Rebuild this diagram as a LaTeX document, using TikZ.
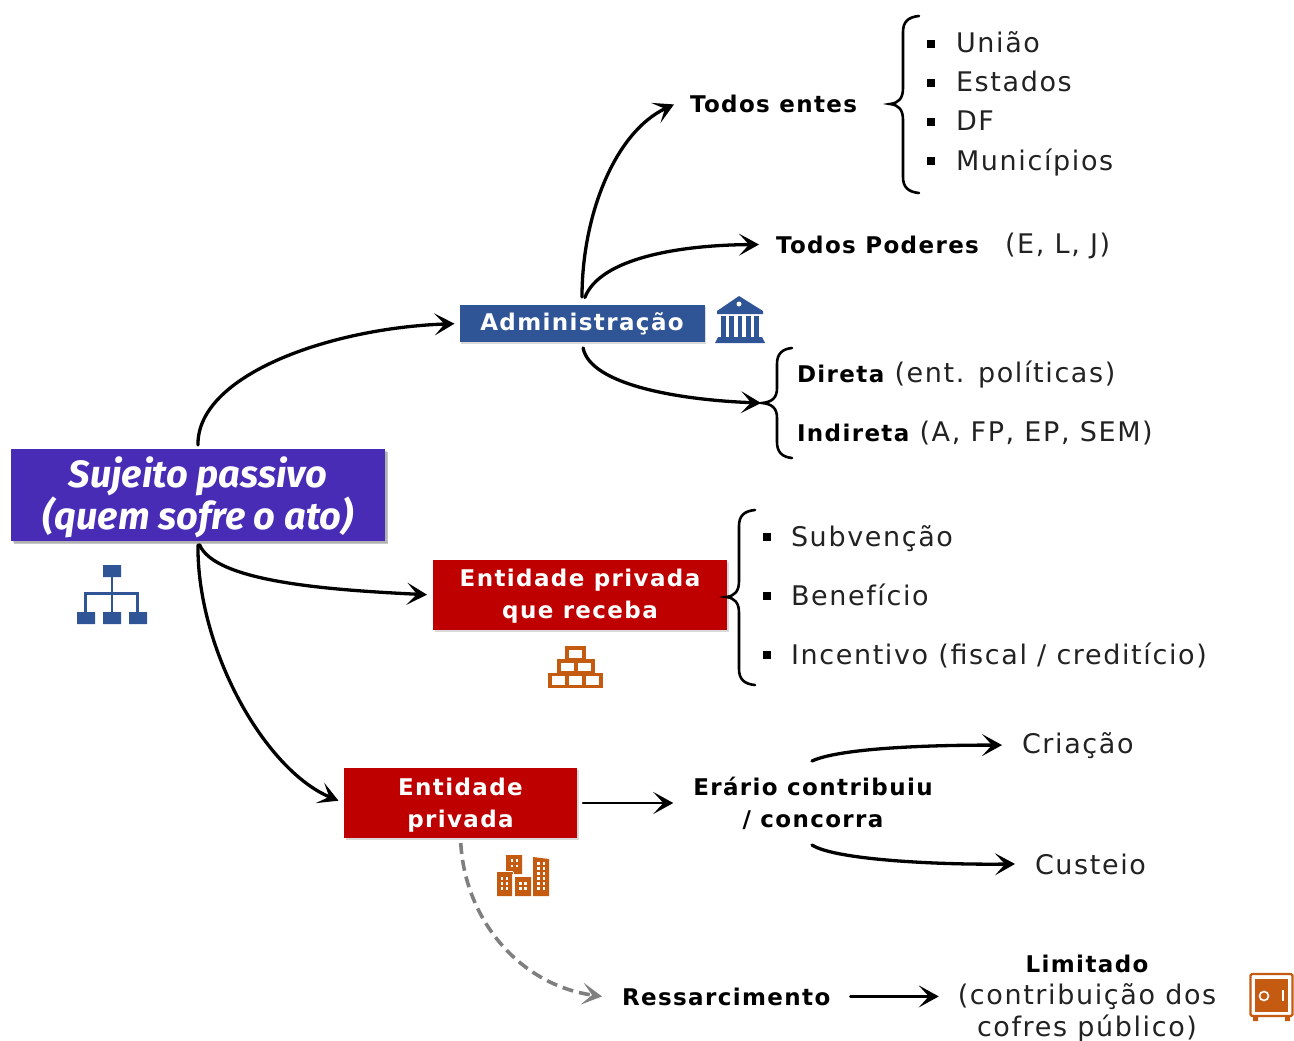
\documentclass[tikz,border=0pt]{standalone}
\usepackage{fontspec}
\setmainfont{DejaVu Sans}[LetterSpace=6]
\newfontfamily\titlefont{Fira Sans}
\usetikzlibrary{arrows.meta,shadows}
\definecolor{cpurple}{HTML}{482CB6}
\definecolor{cblue}{HTML}{2F5597}
\definecolor{cred}{HTML}{BE0000}
\definecolor{corange}{HTML}{C55A11}
\definecolor{cgray}{HTML}{7F7F7F}
\definecolor{ctext}{HTML}{222222}
\newcommand{\bb}[1]{{\fontsize{23}{32}\selectfont\bfseries\color{black}#1}}
\tikzset{
 lbl/.style={anchor=base west,inner sep=0pt,outer sep=0pt,text=ctext,font=\fontsize{27}{32}\selectfont},
 lblc/.style={lbl,anchor=center,align=center},
 blbl/.style={lbl,text=black,font=\fontsize{23}{32}\selectfont\bfseries},
 blblc/.style={blbl,anchor=center,align=center},
 boxn/.style={inner sep=0pt,outer sep=0pt,text=white,align=center,drop shadow={shadow xshift=1.5pt,shadow yshift=-1.5pt,opacity=.3}},
 conn/.style={line width=3.3pt,black,line cap=round,-{Stealth[length=20pt,width=22pt,inset=10pt]}},
 brace/.style={line width=2.6pt,black,line cap=round},
 bull/.style={fill=black,minimum size=7.5pt,inner sep=0pt,outer sep=0pt,draw=none},
}
\begin{document}
\begin{tikzpicture}[x=1pt,y=-1pt]
\useasboundingbox (0,0) rectangle (1294,1041);
% boxes
\node[boxn,drop shadow={shadow xshift=3pt,shadow yshift=-3pt,opacity=.45},fill=cpurple,minimum width=374pt,minimum height=92pt,font=\titlefont\fontsize{38}{42}\selectfont\bfseries\itshape] (title) at (198,495) {\rule{0pt}{36pt}Sujeito passivo\\(quem sofre o ato)};
\node[boxn,fill=cblue,minimum width=245pt,minimum height=37pt,font=\fontsize{23}{30}\selectfont\bfseries] (adm) at (582,323.5) {Administração};
\node[boxn,fill=cred,minimum width=294pt,minimum height=70pt,font=\fontsize{23}{32}\selectfont\bfseries] (ent1) at (580,595) {\rule{0pt}{20pt}Entidade privada\\que receba};
\node[boxn,fill=cred,minimum width=233pt,minimum height=70pt,font=\fontsize{23}{32}\selectfont\bfseries] (ent2) at (460.5,803) {\rule{0pt}{22pt}Entidade\\privada};
% labels
\node[blbl] (entes) at (690,113) {Todos entes};
\node[blbl] (poderes) at (776,253) {Todos Poderes};
\node[lbl] (elj) at (1005,253) {(E, L, J)};
\node[lbl] (uniao) at (956,53) {União};
\node[lbl] (estados) at (956,92) {Estados};
\node[lbl] (df) at (956,131) {DF};
\node[lbl] (mun) at (956,170) {Municípios};
\node[lbl] (dir) at (797,382) {\bb{Direta} (ent. políticas)};
\node[lbl] (ind) at (797,441) {\bb{Indireta} (A, FP, EP, SEM)};
\node[lbl] (sub) at (791,546) {Subvenção};
\node[lbl] (ben) at (791,605) {Benefício};
\node[lbl] (inc) at (791,664) {Incentivo (fiscal / creditício)};
\node[blblc] (erario) at (813,803) {Erário contribuiu\\/ concorra};
\node[lbl] (cria) at (1022,753) {Criação};
\node[lbl] (cust) at (1035,874) {Custeio};
\node[blbl] (ress) at (622,1005) {Ressarcimento};
\node[lblc] (lim) at (1087,999) {\bb{Limitado}\\(contribuição dos\\cofres público)};
% bullets
\foreach \p in {(931,44),(931,83),(931,122),(931,161),(767,537),(767,596),(767,655)}
  \node[bull] at \p {};
% connectors
\draw[conn,shorten <=4pt,shorten >=5pt] (title.north) .. controls (197,375) and (330,328) .. (adm.west);
\draw[conn,shorten <=8pt] (adm.north) .. controls (582,215) and (615,132) .. ([xshift=-16pt]entes.west);
\draw[conn,shorten <=8pt,shorten >=17pt] (adm.north) .. controls (600,258) and (680,245) .. (poderes.west);
\draw[conn,shorten <=6pt] (adm.south) .. controls (590,385) and (680,400) .. (761,403);
\draw[conn,shorten <=4pt,shorten >=6pt] (title.south) .. controls (215,582) and (330,590) .. (ent1.west);
\draw[conn,shorten <=4pt,shorten >=6pt] (title.south) .. controls (197,650) and (265,770) .. (ent2.west);
\draw[conn,line width=2.6pt] ([xshift=6pt]ent2.east) -- ([xshift=-20pt]erario.west);
\draw[conn] (812,761) .. controls (840,748) and (930,745) .. ([xshift=-20pt]cria.west);
\draw[conn] (812,845) .. controls (835,860) and (940,865) .. ([xshift=-20pt]cust.west);
\draw[conn,cgray,dash pattern=on 11pt off 6pt,line width=3.6pt,line cap=butt,shorten <=5pt] (ent2.south) .. controls (465,920) and (520,985) .. ([xshift=-20pt]ress.west);
\draw[conn,line width=2.6pt] ([xshift=20pt]ress.east) -- ([xshift=-19pt]lim.west |- ress.east);
% braces
\draw[brace] (919,16) .. controls (908,17) and (903,22) .. (903,32) -- (903,88) .. controls (903,98) and (899,103) .. (890,104) .. controls (899,105) and (903,110) .. (903,120) -- (903,177) .. controls (903,187) and (908,192) .. (919,193);
\draw[brace] (792,348) .. controls (782,349) and (777,354) .. (777,364) -- (777,388) .. controls (777,398) and (772,402) .. (762,403) .. controls (772,404) and (777,408) .. (777,418) -- (777,442) .. controls (777,452) and (782,457) .. (792,458);
\draw[brace] (755,510) .. controls (744,511) and (739,516) .. (739,526) -- (739,581) .. controls (739,591) and (735,596) .. (726,597) .. controls (735,598) and (739,603) .. (739,613) -- (739,669) .. controls (739,679) and (744,684) .. (755,685);
% org chart icon
\fill[cblue] (103,565) rectangle (121,577) (77,612) rectangle (95,624) (103,612) rectangle (121,624) (129,612) rectangle (147,624);
\draw[cblue,line width=2.2pt] (112,577) -- (112,612) (85.5,612) -- (85.5,593.5) -- (137.5,593.5) -- (137.5,612);
% bank icon
\fill[cblue] (739,296) -- (763,311) -- (763,314) -- (717,314) -- (717,311) -- cycle;
\fill[white] (739,304) circle (2.5);
\fill[cblue] (715,343) -- (718,337) -- (762,337) -- (765,343) -- cycle;
\foreach \x in {721,729,737.5,746,754}
  \fill[cblue] (\x,316) rectangle (\x+4.5,337);
% bricks icon
\foreach \x/\y in {550/674.5,567/674.5,584/674.5,559/661,576/661,567/648}
  \draw[corange,line width=3.4pt,fill=white] (\x,\y) rectangle (\x+17,\y+12);
% buildings icon
\fill[corange] (497,872) rectangle (512,896) (506,855) rectangle (522,874) (515,877) rectangle (531,896) (533,857) -- (549,859) -- (549,896) -- (533,896) -- cycle;
\draw[white,line width=1pt] (513.5,872) -- (513.5,896) (506,871) -- (513,871) ;
\foreach \x in {500.5,505.5}
  \foreach \y in {877,882,887}
    \fill[white] (\x,\y) rectangle (\x+2.6,\y+2.6);
\foreach \x in {510.5,515.5}
  \foreach \y in {859,864.5}
    \fill[white] (\x,\y) rectangle (\x+2.6,\y+2.6);
\foreach \x in {519,524}
  \foreach \y in {882,887}
    \fill[white] (\x,\y) rectangle (\x+2.6,\y+2.6);
\foreach \x in {537,542.5}
  \foreach \y in {862,867,872,877,882,887}
    \fill[white] (\x,\y) rectangle (\x+2.6,\y+2.6);
% safe icon
\draw[corange,line width=2.4pt,fill=white,rounded corners=1.5pt] (1250.5,974) rectangle (1292.5,1016);
\fill[corange] (1255,979) rectangle (1288,1012);
\fill[corange] (1253,1017) rectangle (1258,1021) (1285,1017) rectangle (1290,1021);
\draw[white,line width=1.6pt] (1264,996) circle (4.5);
\draw[white,line width=2pt] (1283,990) -- (1283,1001);
\end{tikzpicture}
\end{document}
